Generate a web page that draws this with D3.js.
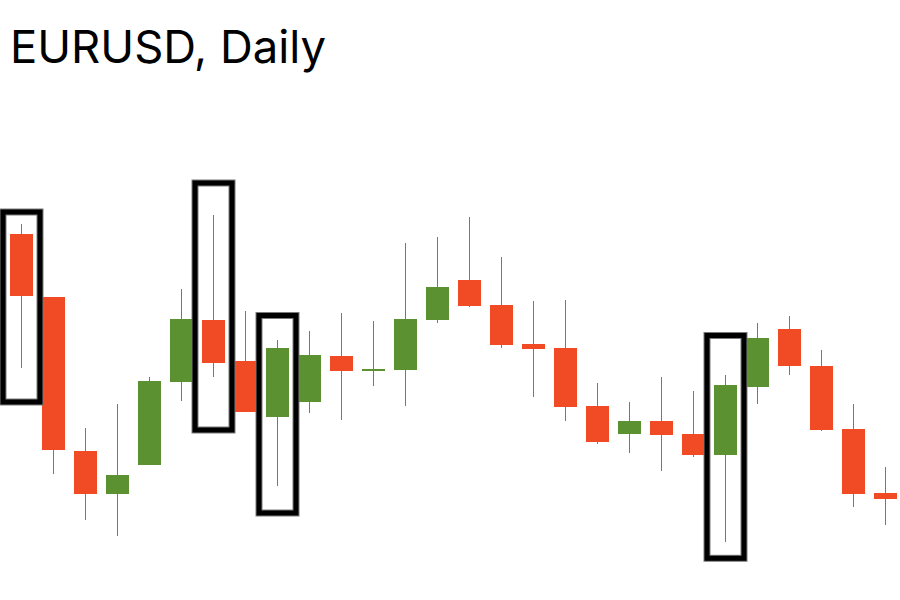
<!DOCTYPE html>
<html>
<head>
<meta charset="utf-8">
<script src="https://cdn.jsdelivr.net/npm/d3@7"></script>
<style>
  html, body { margin: 0; padding: 0; background: #fff; }
  svg { display: block; }
</style>
</head>
<body>
<svg id="chart" width="900" height="600"></svg>
<script>
// ---- data (EURUSD daily candles) ----
const days  = ["D1","D2","D3","D4","D5","D6","D7","D8","D9","D10","D11","D12","D13","D14",
               "D15","D16","D17","D18","D19","D20","D21","D22","D23","D24","D25","D26","D27","D28"];
const open  = [1.0816,1.0753,1.0599,1.0556,1.0585,1.0668,1.0730,1.0689,1.0633,1.0648,1.0694,1.0679,1.0680,1.0730,
               1.0770,1.0745,1.0706,1.0702,1.0644,1.0616,1.0629,1.0616,1.0595,1.0663,1.0721,1.0684,1.0621,1.0557];
const high  = [1.0826,1.0753,1.0622,1.0646,1.0673,1.0761,1.0835,1.0739,1.0710,1.0719,1.0737,1.0729,1.0807,1.0813,
               1.0833,1.0793,1.0749,1.0750,1.0667,1.0648,1.0673,1.0659,1.0675,1.0727,1.0734,1.0700,1.0646,1.0583];
const low   = [1.0682,1.0576,1.0530,1.0514,1.0585,1.0649,1.0673,1.0638,1.0564,1.0637,1.0630,1.0664,1.0644,1.0727,
               1.0743,1.0702,1.0653,1.0629,1.0606,1.0597,1.0579,1.0593,1.0508,1.0646,1.0675,1.0619,1.0543,1.0525];
const close = [1.0754,1.0600,1.0556,1.0575,1.0669,1.0731,1.0687,1.0638,1.0702,1.0695,1.0679,1.0681,1.0731,1.0763,
               1.0744,1.0705,1.0701,1.0643,1.0608,1.0629,1.0615,1.0595,1.0665,1.0712,1.0684,1.0620,1.0556,1.0551];

// highlighted candles: index, box top price, box bottom price
const boxIndex  = [0, 6, 8, 22];
const boxTop    = [1.0838, 1.0867, 1.07345, 1.07145];
const boxBottom = [1.0648, 1.0620, 1.0537, 1.04917];

const title = "EURUSD, Daily";

// ---- drawing ----
const candles = days.map((d, i) => ({ d, o: open[i], h: high[i], l: low[i], c: close[i] }));
const boxes = boxIndex.map((idx, i) => ({ d: days[idx], top: boxTop[i], bottom: boxBottom[i] }));

const svg = d3.select("#chart");
const UP = "#5B9130", DOWN = "#F14B25";

const x = d3.scaleBand().domain(days).range([5.5, 901.5]).paddingInner(0.28).paddingOuter(0.14);
const y = d3.scaleLinear().domain([1.0500, 1.0850]).range([550, 200]);
const cx = d => x(d) + x.bandwidth() / 2;

svg.append("text")
  .attr("x", 10).attr("y", 63)
  .attr("font-family", "Inter, 'Noto Sans', sans-serif")
  .attr("font-size", 45)
  .attr("fill", "#000")
  .attr("textLength", 316)
  .attr("lengthAdjust", "spacingAndGlyphs")
  .text(title);

const g = svg.append("g");

g.selectAll("line.wick").data(candles).join("line")
  .attr("class", "wick")
  .attr("x1", d => cx(d.d)).attr("x2", d => cx(d.d))
  .attr("y1", d => y(d.h)).attr("y2", d => y(d.l))
  .attr("stroke", d => d.c >= d.o ? UP : DOWN)
  .attr("stroke-width", 1);

g.selectAll("rect.body").data(candles).join("rect")
  .attr("class", "body")
  .attr("x", d => x(d.d))
  .attr("width", x.bandwidth())
  .attr("y", d => y(Math.max(d.o, d.c)))
  .attr("height", d => Math.max(2, Math.abs(y(d.o) - y(d.c))))
  .attr("fill", d => d.c >= d.o ? UP : DOWN);

const boxHalf = 18.5;
const hb = svg.append("g");
hb.selectAll("rect.edge").data(boxes).join("rect")
  .attr("class", "edge")
  .attr("x", d => cx(d.d) - boxHalf).attr("width", boxHalf * 2)
  .attr("y", d => y(d.top)).attr("height", d => y(d.bottom) - y(d.top))
  .attr("fill", "none").attr("stroke", "#7a7a7a").attr("stroke-width", 7);
hb.selectAll("rect.frame").data(boxes).join("rect")
  .attr("class", "frame")
  .attr("x", d => cx(d.d) - boxHalf).attr("width", boxHalf * 2)
  .attr("y", d => y(d.top)).attr("height", d => y(d.bottom) - y(d.top))
  .attr("fill", "none").attr("stroke", "#000").attr("stroke-width", 5);
</script>
</body>
</html>
